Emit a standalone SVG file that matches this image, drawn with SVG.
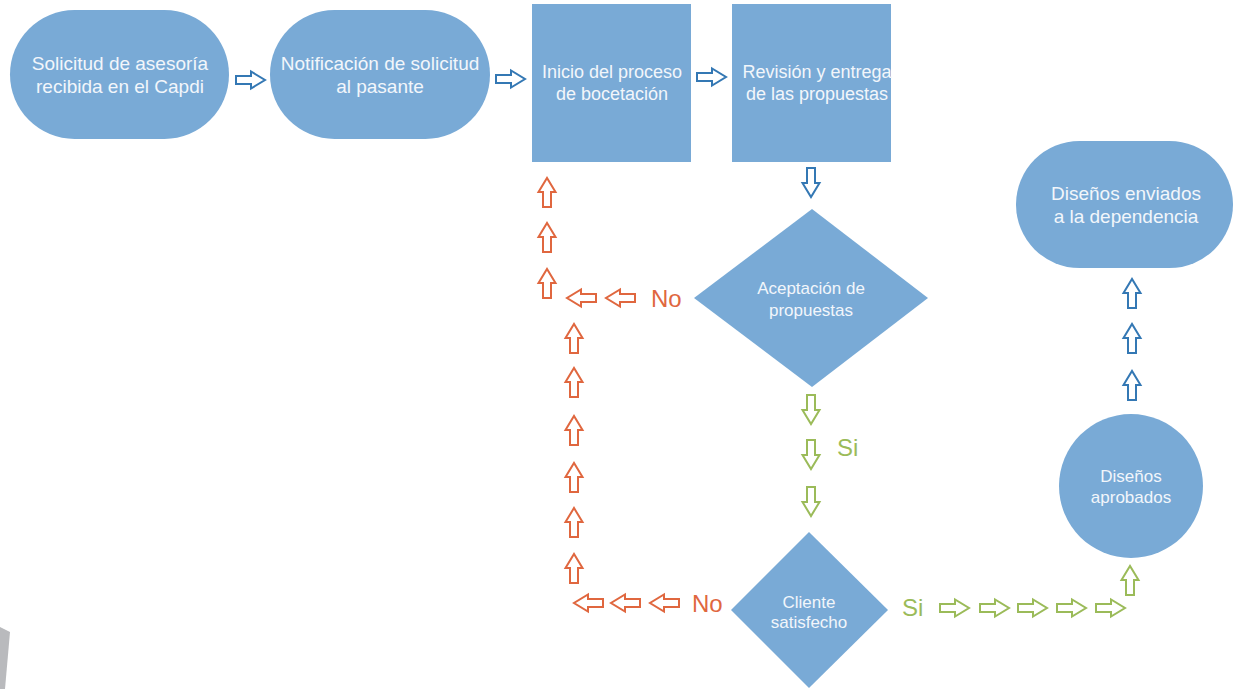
<svg xmlns="http://www.w3.org/2000/svg" xmlns:xlink="http://www.w3.org/1999/xlink" width="1235" height="689" viewBox="0 0 1235 689">
<style>
.node{fill:#79aad6;}
.t{font-family:"Liberation Sans",Arial,sans-serif;fill:#f2f6fb;text-anchor:middle;}
.t19{font-size:19px;}
.t18{font-size:18px;}
.t17{font-size:17px;}
.lbl{font-family:"Liberation Sans",Arial,sans-serif;font-size:24px;}
.blue{stroke:#3478b4;}
.red{stroke:#e0673f;}
.green{stroke:#9bbb59;}
use{fill:#ffffff;stroke-width:2;stroke-linejoin:miter;}
</style>
<defs>
<path id="ar" d="M0,-4 H15 V-8.5 L29,0 L15,8.5 V4 H0 Z"/>
</defs>
<rect width="1235" height="689" fill="#ffffff"/>
<polygon points="0,627 10,632 5,689 0,689" fill="#b9babd"/>

<g id="n1">
<rect class="node" x="10" y="10" width="219" height="129" rx="64.5"/>
<text class="t t19" x="120" y="70">Solicitud de asesoría</text>
<text class="t t19" x="120" y="93">recibida en el Capdi</text>
</g>
<g id="n2">
<rect class="node" x="270" y="10" width="220" height="129" rx="64.5"/>
<text class="t t19" x="380" y="70">Notificación de solicitud</text>
<text class="t t19" x="380" y="93">al pasante</text>
</g>
<g id="n3">
<rect class="node" x="532" y="4" width="159" height="158"/>
<text class="t t18" x="612" y="78">Inicio del proceso</text>
<text class="t t18" x="612" y="100">de bocetación</text>
</g>
<g id="n4">
<rect class="node" x="732" y="4" width="159" height="158"/>
<text class="t t18" x="817" y="78">Revisión y entrega</text>
<text class="t t18" x="817" y="100">de las propuestas</text>
</g>
<g id="d1">
<polygon class="node" points="812,209 928,298 812,387 694,298"/>
<text class="t t17" x="811" y="294">Aceptación de</text>
<text class="t t17" x="811" y="316">propuestas</text>
</g>
<g id="d2">
<polygon class="node" points="809,532 888,610 809,688 731,610"/>
<text class="t t17" x="809" y="608">Cliente</text>
<text class="t t17" x="809" y="628">satisfecho</text>
</g>
<g id="n5">
<rect class="node" x="1016" y="141" width="217" height="127" rx="63.5"/>
<text class="t t19" x="1126" y="200">Diseños enviados</text>
<text class="t t19" x="1126" y="223">a la dependencia</text>
</g>
<g id="n6">
<circle class="node" cx="1131" cy="486" r="72"/>
<text class="t t17" x="1131" y="482">Diseños</text>
<text class="t t17" x="1131" y="503">aprobados</text>
</g>

<g id="connectors">
<use xlink:href="#ar" href="#ar" class="blue" transform="translate(236,80)"/>
<use xlink:href="#ar" href="#ar" class="blue" transform="translate(496,79)"/>
<use xlink:href="#ar" href="#ar" class="blue" transform="translate(697,77)"/>
<use xlink:href="#ar" href="#ar" class="blue" transform="translate(811,168) rotate(90)"/>

<use xlink:href="#ar" href="#ar" class="red" transform="translate(547,207) rotate(-90)"/>
<use xlink:href="#ar" href="#ar" class="red" transform="translate(547,252) rotate(-90)"/>
<use xlink:href="#ar" href="#ar" class="red" transform="translate(547,298) rotate(-90)"/>
<use xlink:href="#ar" href="#ar" class="red" transform="translate(596,298) rotate(180)"/>
<use xlink:href="#ar" href="#ar" class="red" transform="translate(635,298) rotate(180)"/>
<text class="lbl" x="651" y="307" fill="#e0673f">No</text>

<use xlink:href="#ar" href="#ar" class="red" transform="translate(574,353) rotate(-90)"/>
<use xlink:href="#ar" href="#ar" class="red" transform="translate(574,397) rotate(-90)"/>
<use xlink:href="#ar" href="#ar" class="red" transform="translate(574,445) rotate(-90)"/>
<use xlink:href="#ar" href="#ar" class="red" transform="translate(574,492) rotate(-90)"/>
<use xlink:href="#ar" href="#ar" class="red" transform="translate(574,537) rotate(-90)"/>
<use xlink:href="#ar" href="#ar" class="red" transform="translate(574,583) rotate(-90)"/>

<use xlink:href="#ar" href="#ar" class="red" transform="translate(603,603) rotate(180)"/>
<use xlink:href="#ar" href="#ar" class="red" transform="translate(640,603) rotate(180)"/>
<use xlink:href="#ar" href="#ar" class="red" transform="translate(679,603) rotate(180)"/>
<text class="lbl" x="692" y="612" fill="#e0673f">No</text>

<use xlink:href="#ar" href="#ar" class="green" transform="translate(811,395) rotate(90)"/>
<use xlink:href="#ar" href="#ar" class="green" transform="translate(811,440) rotate(90)"/>
<use xlink:href="#ar" href="#ar" class="green" transform="translate(811,487) rotate(90)"/>
<text class="lbl" x="837" y="456" fill="#9bbb59">Si</text>

<text class="lbl" x="902" y="616" fill="#9bbb59">Si</text>
<use xlink:href="#ar" href="#ar" class="green" transform="translate(940,608)"/>
<use xlink:href="#ar" href="#ar" class="green" transform="translate(980,608)"/>
<use xlink:href="#ar" href="#ar" class="green" transform="translate(1018,608)"/>
<use xlink:href="#ar" href="#ar" class="green" transform="translate(1057,608)"/>
<use xlink:href="#ar" href="#ar" class="green" transform="translate(1096,608)"/>
<use xlink:href="#ar" href="#ar" class="green" transform="translate(1130,595) rotate(-90)"/>

<use xlink:href="#ar" href="#ar" class="blue" transform="translate(1132,400) rotate(-90)"/>
<use xlink:href="#ar" href="#ar" class="blue" transform="translate(1132,353) rotate(-90)"/>
<use xlink:href="#ar" href="#ar" class="blue" transform="translate(1132,308) rotate(-90)"/>
</g>
</svg>
